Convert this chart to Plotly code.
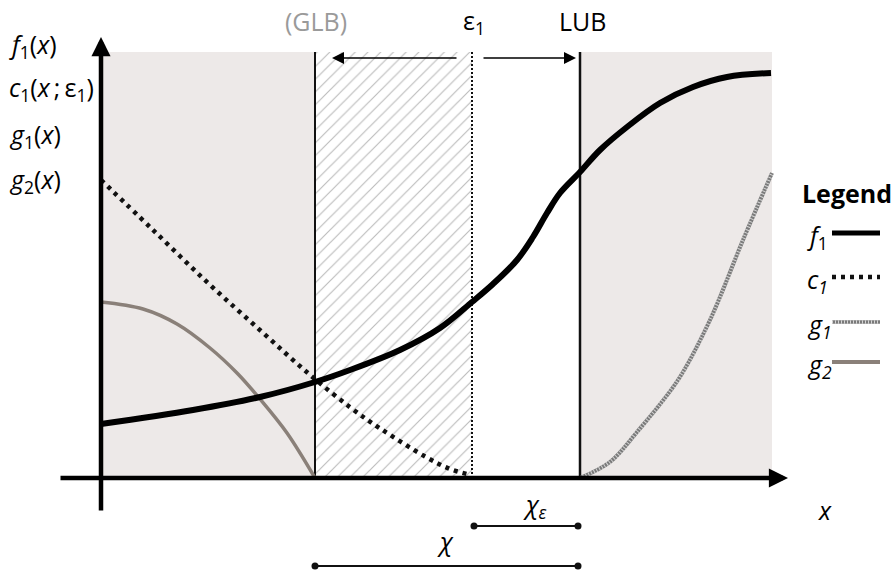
import plotly.graph_objects as go

# Diagram units: origin at the axes crossing, one unit per screen pixel.
GLB = 214      # greatest lower bound
EPS = 371      # epsilon-1 threshold
LUB = 479      # least upper bound
X_END = 671    # right edge of the shaded domain
TOP = 426      # top of the shaded domain

f1_x = [0, 92, 159, 214, 249, 299, 339, 371, 392, 416, 432, 446, 459, 479, 499, 526, 559, 592, 626, 670]
f1_y = [54, 68, 81, 96, 108, 128, 150, 176, 194, 218, 241, 265, 285, 306, 328, 351, 375, 391, 401, 405]

c1_x = [0, 50, 107, 160, 208, 250, 280, 325, 349, 366, 370]
c1_y = [298, 250, 195, 147, 104, 70, 49, 21, 9, 4, 3]

g1_x = [479, 509, 536, 577, 609, 642, 671]
g1_y = [0, 16, 46, 98, 158, 238, 305]

g2_x = [0, 42, 76, 109, 136, 159, 186, 214]
g2_y = [176, 169, 154, 130, 105, 79, 45, 0]

FONT = "Open Sans"
LIGHT = dict(family=FONT, size=25, color="#000000", weight=400)
SHADE = "#EDE9E8"
G2_COLOR = "#8A8079"
G1_COLOR = "#7a7a7a"
G1_STRIPE = "#d4d4d4"

fig = go.Figure()

# hatched band between GLB and epsilon-1
fig.add_trace(go.Bar(
    x=[(GLB + EPS) / 2], y=[TOP], base=0, width=[EPS - GLB],
    marker=dict(color="white", line=dict(width=0),
                pattern=dict(shape="/", fgcolor="#7a7a7a", bgcolor="white",
                             size=9, solidity=0.13)),
    hoverinfo="skip", showlegend=False,
))

# boundary lines
fig.add_trace(go.Scatter(x=[GLB, GLB], y=[0, TOP], mode="lines",
                         line=dict(color="#111", width=2), hoverinfo="skip", showlegend=False))
fig.add_trace(go.Scatter(x=[EPS, EPS], y=[0, TOP], mode="lines",
                         line=dict(color="#111", width=2, dash="2px,2px"), hoverinfo="skip", showlegend=False))
fig.add_trace(go.Scatter(x=[LUB, LUB], y=[0, TOP], mode="lines",
                         line=dict(color="#111", width=2.5), hoverinfo="skip", showlegend=False))

# curves
fig.add_trace(go.Scatter(x=g2_x, y=g2_y, mode="lines", line=dict(color=G2_COLOR, width=3.5, shape="spline"),
                         hoverinfo="skip", showlegend=False))
fig.add_trace(go.Scatter(x=g1_x, y=g1_y, mode="lines", line=dict(color=G1_COLOR, width=4, shape="spline"),
                         hoverinfo="skip", showlegend=False))
fig.add_trace(go.Scatter(x=g1_x, y=g1_y, mode="lines",
                         line=dict(color=G1_STRIPE, width=4, shape="spline", dash="1px,2px"),
                         hoverinfo="skip", showlegend=False))
fig.add_trace(go.Scatter(x=c1_x, y=c1_y, mode="lines",
                         line=dict(color="#111", width=4.5, shape="spline", dash="4px,5px"),
                         hoverinfo="skip", showlegend=False))
fig.add_trace(go.Scatter(x=f1_x, y=f1_y, mode="lines", line=dict(color="#000", width=6, shape="spline"),
                         hoverinfo="skip", showlegend=False))

# interval bars under the axis
CHI_EPS_Y = -48
CHI_Y = -88
fig.add_trace(go.Scatter(x=[EPS + 2, LUB - 2], y=[CHI_EPS_Y, CHI_EPS_Y], mode="lines+markers",
                         line=dict(color="#111", width=2), marker=dict(size=7, color="#111"),
                         hoverinfo="skip", showlegend=False))
fig.add_trace(go.Scatter(x=[GLB, LUB - 2], y=[CHI_Y, CHI_Y], mode="lines+markers",
                         line=dict(color="#111", width=2), marker=dict(size=7, color="#111"),
                         hoverinfo="skip", showlegend=False))

# legend samples (drawn to the right of their labels)
LEG_X0, LEG_X1 = 731, 779
LEG_Y = [245, 201, 156, 116]
fig.add_trace(go.Scatter(x=[LEG_X0, LEG_X1], y=[LEG_Y[0]] * 2, mode="lines",
                         line=dict(color="#000", width=5), hoverinfo="skip", showlegend=False))
fig.add_trace(go.Scatter(x=[LEG_X0, LEG_X1], y=[LEG_Y[1]] * 2, mode="lines",
                         line=dict(color="#111", width=4.5, dash="4px,5px"), hoverinfo="skip", showlegend=False))
fig.add_trace(go.Scatter(x=[LEG_X0, LEG_X1], y=[LEG_Y[2]] * 2, mode="lines",
                         line=dict(color=G1_COLOR, width=3.5), hoverinfo="skip", showlegend=False))
fig.add_trace(go.Scatter(x=[LEG_X0, LEG_X1], y=[LEG_Y[2]] * 2, mode="lines",
                         line=dict(color=G1_STRIPE, width=3.5, dash="1px,2px"), hoverinfo="skip", showlegend=False))
fig.add_trace(go.Scatter(x=[LEG_X0, LEG_X1], y=[LEG_Y[3]] * 2, mode="lines",
                         line=dict(color=G2_COLOR, width=4), hoverinfo="skip", showlegend=False))

shapes = [
    dict(type="rect", xref="x", yref="y", x0=0, x1=GLB, y0=0, y1=TOP,
         fillcolor=SHADE, line=dict(width=0), layer="below"),
    dict(type="rect", xref="x", yref="y", x0=LUB, x1=X_END, y0=0, y1=TOP,
         fillcolor=SHADE, line=dict(width=0), layer="below"),
]

annotations = []

def arrow(x, y, ax, ay, width, size, head=2):
    annotations.append(dict(x=x, y=y, ax=ax, ay=ay, xref="x", yref="y", axref="x", ayref="y",
                            text="", showarrow=True, arrowhead=head, arrowwidth=width,
                            arrowsize=size, arrowcolor="#000"))

# axes
arrow(687, 0, -42, 0, 4.5, 0.85)
arrow(0, 441, 0, -34, 4.5, 0.85)
# epsilon-1 arrows
arrow(GLB + 17, 420, EPS - 14, 420, 1.5, 1.6)
arrow(LUB - 4, 420, EPS + 10, 420, 1.5, 1.6)

def text(x, y, s, font=None, xanchor="center", yanchor="middle"):
    annotations.append(dict(x=x, y=y, xref="x", yref="y", text=s, showarrow=False,
                            font=font or LIGHT, xanchor=xanchor, yanchor=yanchor))

# function labels on the left
for yy, s in [(433, "<i>f</i><sub>1</sub>(<i>x</i>)"),
              (390, "<i>c</i><sub>1</sub>(<i>x</i>\u2009;\u2009ε<sub>1</sub>)"),
              (343, "<i>g</i><sub>1</sub>(<i>x</i>)"),
              (298, "<i>g</i><sub>2</sub>(<i>x</i>)")]:
    text(-94, yy, s, xanchor="left")

# bound labels along the top
TOP_LABEL_Y = 457
text(GLB + 1, TOP_LABEL_Y, "(GLB)", font=dict(LIGHT, color="#9a9a9a"))
text(EPS + 2, TOP_LABEL_Y, "ε<sub>1</sub>")
text(LUB + 2, TOP_LABEL_Y, "LUB")

# axis and interval labels
text(724, -32, "<i>x</i>")
text(434, -27, "<i>χ</i><sub><i>ε</i></sub>")
text(344, -63, "<i>χ</i>")

# legend
text(699, 285, "Legend", font=dict(family=FONT, size=25, color="#000", weight=700), xanchor="left")
for yy, s in zip(LEG_Y, ["<i>f</i><sub>1</sub>", "<i>c</i><sub><i>1</i></sub>",
                         "<i>g</i><sub><i>1</i></sub>", "<i>g</i><sub><i>2</i></sub>"]):
    text(704, yy - 3, s, xanchor="left")

fig.update_layout(
    width=896, height=576,
    margin=dict(l=0, r=0, t=0, b=0),
    paper_bgcolor="white", plot_bgcolor="white",
    showlegend=False,
    xaxis=dict(range=[-101, 795], visible=False, fixedrange=True),
    yaxis=dict(range=[-98, 478], visible=False, fixedrange=True),
    shapes=shapes,
    annotations=annotations,
    bargap=0,
)

fig.write_html("out.html")
